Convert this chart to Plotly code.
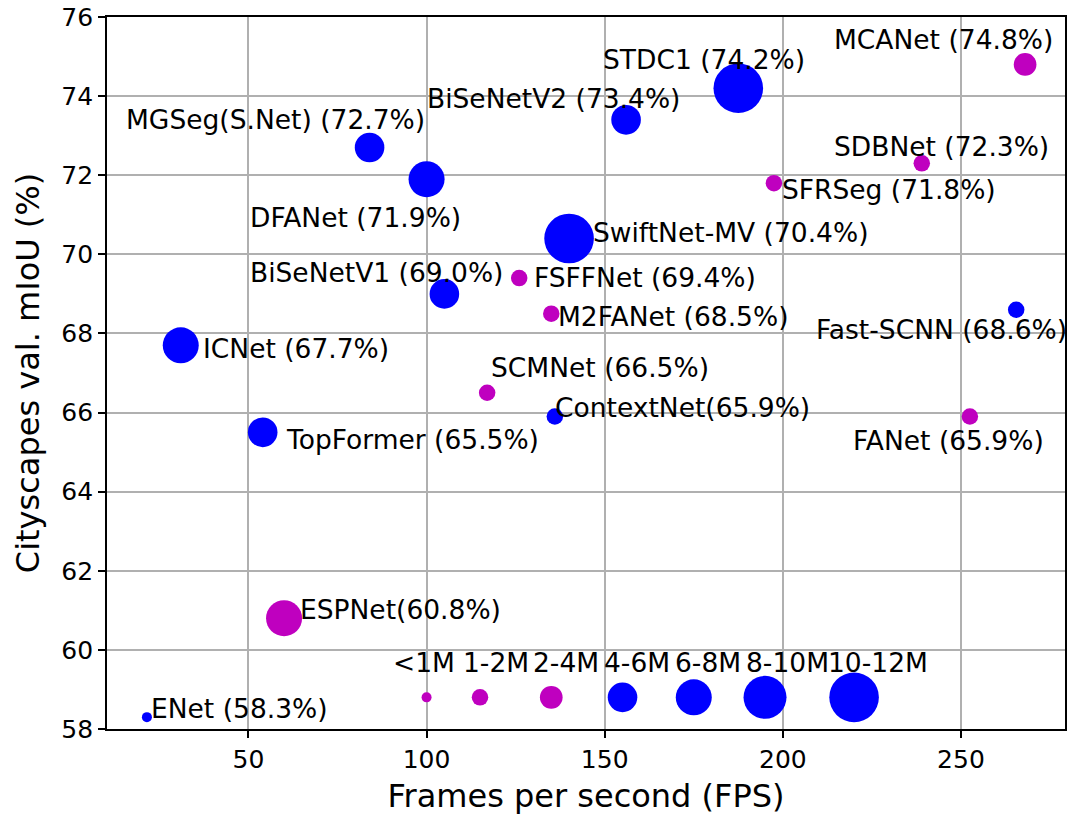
import plotly.graph_objects as go

# ---- data ----
models = ["MCANet", "STDC1", "BiSeNetV2", "MGSeg(S.Net)", "DFANet", "SDBNet", "SFRSeg",
          "SwiftNet-MV", "BiSeNetV1", "FSFFNet", "M2FANet", "Fast-SCNN", "ICNet", "SCMNet",
          "ContextNet", "FANet", "TopFormer", "ESPNet", "ENet"]
fps = [268, 187.5, 156, 84, 100, 239, 197.5, 140, 105, 126, 135, 265.5, 31, 117, 136, 252.5, 54, 60, 21.5]
miou = [74.8, 74.2, 73.4, 72.7, 71.9, 72.3, 71.8, 70.4, 69.0, 69.4, 68.5, 68.6, 67.7, 66.5,
        65.9, 65.9, 65.5, 60.8, 58.3]
param_class = ["2-4M", "10-12M", "4-6M", "4-6M", "6-8M", "1-2M", "1-2M", "10-12M", "4-6M",
               "1-2M", "1-2M", "1-2M", "6-8M", "1-2M", "1-2M", "1-2M", "4-6M", "6-8M", "<1M"]
group = ["m", "b", "b", "b", "b", "m", "m", "b", "b", "m", "m", "b", "b", "m", "b", "m", "b", "m", "b"]
labels = ["MCANet (74.8%)", "STDC1 (74.2%)", "BiSeNetV2 (73.4%)", "MGSeg(S.Net) (72.7%)",
          "DFANet (71.9%)", "SDBNet (72.3%)", "SFRSeg (71.8%)", "SwiftNet-MV (70.4%)",
          "BiSeNetV1 (69.0%)", "FSFFNet (69.4%)", "M2FANet (68.5%)", "Fast-SCNN (68.6%)",
          "ICNet (67.7%)", "SCMNet (66.5%)", "ContextNet(65.9%)", "FANet (65.9%)",
          "TopFormer (65.5%)", "ESPNet(60.8%)", "ENet (58.3%)"]

legend_classes = ["<1M", "1-2M", "2-4M", "4-6M", "6-8M", "8-10M", "10-12M"]
legend_fps = [100, 115, 135, 155, 175, 195, 220]
legend_miou = [58.8] * 7
legend_group = ["m", "m", "m", "b", "b", "b", "b"]

x_ticks = [50, 100, 150, 200, 250]
y_ticks = [58, 60, 62, 64, 66, 68, 70, 72, 74, 76]

# ---- label placement (data coords, left / middle anchored) ----
label_x = [214.4, 149.6, 100.0, 15.5, 50.3, 214.4, 199.8, 146.8, 50.3, 130.2, 137.0, 209.4,
           37.2, 118.0, 136.0, 219.8, 60.6, 64.5, 22.7]
label_y = [75.44, 74.92, 73.93, 73.42, 70.92, 72.72, 71.65, 70.54, 69.53, 69.41, 68.44, 68.11,
           67.63, 67.13, 66.13, 65.29, 65.31, 61.01, 58.51]
legend_label_x = [90.6, 110.2, 130.0, 149.7, 169.7, 189.6, 212.8]
legend_label_y = 59.69

# ---- styles ----
size_px = {"<1M": 10, "1-2M": 16.5, "2-4M": 22.7, "4-6M": 29.6, "6-8M": 36, "8-10M": 43, "10-12M": 49.6}
color_map = {"m": "#BF00BF", "b": "#0000FF"}
FONT = "DejaVu Sans"

fig = go.Figure()
fig.add_trace(go.Scatter(
    x=fps, y=miou, mode="markers",
    marker=dict(size=[size_px[c] for c in param_class],
                color=[color_map[g] for g in group], line=dict(width=0), opacity=1),
    hoverinfo="skip", showlegend=False))
fig.add_trace(go.Scatter(
    x=legend_fps, y=legend_miou, mode="markers",
    marker=dict(size=[size_px[c] for c in legend_classes],
                color=[color_map[g] for g in legend_group], line=dict(width=0), opacity=1),
    hoverinfo="skip", showlegend=False))

ann_font = dict(family=FONT, size=26.5, color="black")
for lx, ly, t in zip(label_x, label_y, labels):
    fig.add_annotation(x=lx, y=ly, text=t, showarrow=False, xanchor="left", yanchor="middle",
                       borderpad=0, borderwidth=0, font=ann_font)
for lx, t in zip(legend_label_x, legend_classes):
    fig.add_annotation(x=lx, y=legend_label_y, text=t, showarrow=False, xanchor="left",
                       yanchor="middle", borderpad=0, borderwidth=0, font=ann_font)

axis_common = dict(showline=True, linecolor="black", linewidth=1.7, mirror=True,
                   ticks="outside", ticklen=7, tickwidth=1.7, tickcolor="black",
                   showgrid=True, gridcolor="#b0b0b0", gridwidth=1.7, zeroline=False,
                   tickfont=dict(family=FONT, size=25, color="black"))

fig.update_xaxes(range=[10.3, 279.2], tickvals=x_ticks,
                 title=dict(text="Frames per second (FPS)", font=dict(family=FONT, size=32, color="black"),
                            standoff=12),
                 **axis_common)
fig.update_yaxes(range=[58, 76], tickvals=y_ticks,
                 title=dict(text="Cityscapes val. mIoU (%)", font=dict(family=FONT, size=32, color="black"),
                            standoff=12),
                 **axis_common)

fig.update_layout(width=1071, height=819, margin=dict(l=107, r=6, t=17, b=90, autoexpand=False),
                  plot_bgcolor="white", paper_bgcolor="white", font=dict(family=FONT))

fig.write_html("out.html")
